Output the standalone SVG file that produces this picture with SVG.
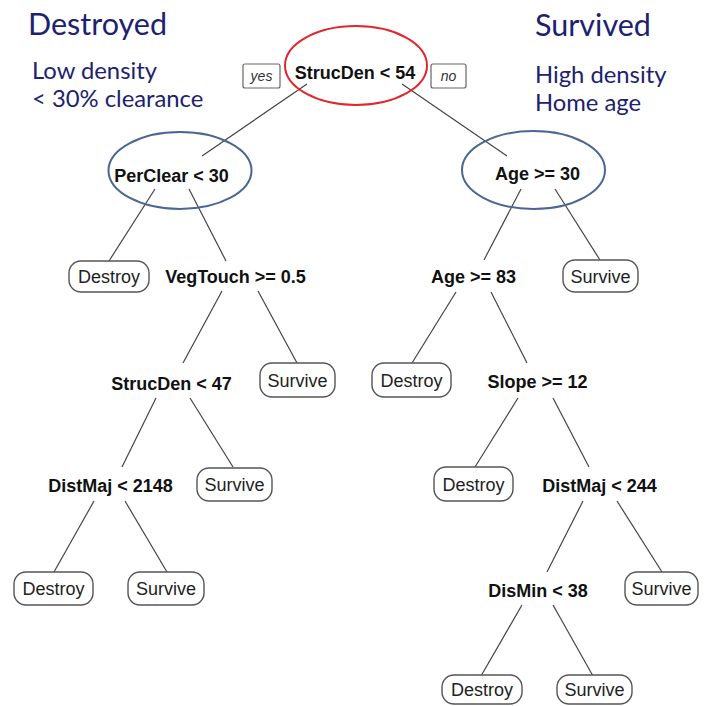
<svg xmlns="http://www.w3.org/2000/svg" width="709" height="706" viewBox="0 0 709 706">
<style>
.title{font-family:Lato,"Open Sans",sans-serif;fill:#1d2270}
.big{font-size:30.5px}
.sub{font-size:23.8px}
.split{font-family:"Liberation Sans",Arial,sans-serif;font-weight:bold;font-size:18px;fill:#111;text-anchor:middle}
.leaf rect{fill:#fff;stroke:#555;stroke-width:1.4}
.leaf text{font-family:"Liberation Sans",Arial,sans-serif;font-size:18px;fill:#222;text-anchor:middle}
.tag rect{fill:#fff;stroke:#666;stroke-width:1.2}
.tag text{font-family:"Liberation Sans",Arial,sans-serif;font-style:italic;font-size:14px;fill:#333;text-anchor:middle}
#connectors line{stroke:#444;stroke-width:1.2}
</style>
<rect width="709" height="706" fill="#fff"/>
<text class="title big" x="28" y="35">Destroyed</text>
<text class="title sub" x="32" y="79">Low density</text>
<text class="title sub" x="32" y="107">&lt; 30% clearance</text>
<text class="title big" x="535" y="36">Survived</text>
<text class="title sub" x="535" y="83">High density</text>
<text class="title sub" x="535" y="111">Home age</text>
<g id="connectors">
<line x1="307" y1="84" x2="202" y2="156"/>
<line x1="402" y1="84" x2="507" y2="156"/>
<line x1="155" y1="189" x2="109" y2="261"/>
<line x1="189" y1="189" x2="226" y2="261"/>
<line x1="521" y1="189" x2="484" y2="260"/>
<line x1="555" y1="189" x2="600" y2="260"/>
<line x1="222" y1="291" x2="183" y2="363"/>
<line x1="258" y1="291" x2="297" y2="363"/>
<line x1="456" y1="292" x2="412" y2="363"/>
<line x1="491" y1="292" x2="527" y2="363"/>
<line x1="156" y1="398" x2="122" y2="467"/>
<line x1="190" y1="398" x2="233" y2="467"/>
<line x1="518" y1="398" x2="475" y2="467"/>
<line x1="553" y1="398" x2="589" y2="467"/>
<line x1="94" y1="501" x2="54" y2="572"/>
<line x1="125" y1="501" x2="167" y2="572"/>
<line x1="583" y1="501" x2="547" y2="572"/>
<line x1="617" y1="501" x2="662" y2="572"/>
<line x1="522" y1="605" x2="481" y2="676"/>
<line x1="553" y1="605" x2="593" y2="676"/>
</g>
<g id="root">
<ellipse cx="356" cy="65.5" rx="71" ry="39.5" fill="none" stroke="#e3262b" stroke-width="2"/>
<text class="split" x="355" y="79">StrucDen &lt; 54</text>
</g>
<g id="tag-yes" class="tag"><rect x="243" y="64" width="37" height="24" rx="2"/><text x="261.5" y="81">yes</text></g>
<g id="tag-no" class="tag"><rect x="431" y="64" width="35" height="24" rx="2"/><text x="448.5" y="81">no</text></g>
<g id="perclear">
<ellipse cx="180" cy="170.5" rx="71.5" ry="38.5" fill="none" stroke="#4a6794" stroke-width="2"/>
<text class="split" x="171.5" y="182">PerClear &lt; 30</text>
</g>
<g id="age30">
<ellipse cx="533.5" cy="170" rx="71.5" ry="39" fill="none" stroke="#4a6794" stroke-width="2"/>
<text class="split" x="537.5" y="180">Age &gt;= 30</text>
</g>
<g id="vegtouch"><text class="split" x="235.5" y="283">VegTouch &gt;= 0.5</text></g>
<g id="age83"><text class="split" x="473.5" y="283">Age &gt;= 83</text></g>
<g id="strucden47"><text class="split" x="171.5" y="390">StrucDen &lt; 47</text></g>
<g id="slope"><text class="split" x="537.5" y="388">Slope &gt;= 12</text></g>
<g id="distmaj2148"><text class="split" x="110.5" y="492">DistMaj &lt; 2148</text></g>
<g id="distmaj244"><text class="split" x="599.5" y="492">DistMaj &lt; 244</text></g>
<g id="dismin"><text class="split" x="538" y="597">DisMin &lt; 38</text></g>
<g id="leaf1" class="leaf"><rect x="69" y="261" width="80" height="31" rx="12"/><text x="109" y="283">Destroy</text></g>
<g id="leaf2" class="leaf"><rect x="563" y="260" width="75" height="32" rx="12"/><text x="600.5" y="282.5">Survive</text></g>
<g id="leaf3" class="leaf"><rect x="260" y="363" width="75" height="34" rx="12"/><text x="297.5" y="386.5">Survive</text></g>
<g id="leaf4" class="leaf"><rect x="372" y="363" width="79" height="34" rx="12"/><text x="411.5" y="386.5">Destroy</text></g>
<g id="leaf5" class="leaf"><rect x="197" y="468" width="75" height="33" rx="12"/><text x="234.5" y="491">Survive</text></g>
<g id="leaf6" class="leaf"><rect x="434" y="467" width="79" height="34" rx="12"/><text x="473.5" y="490.5">Destroy</text></g>
<g id="leaf7" class="leaf"><rect x="14" y="572" width="79" height="33" rx="12"/><text x="53.5" y="595">Destroy</text></g>
<g id="leaf8" class="leaf"><rect x="128" y="572" width="76" height="33" rx="12"/><text x="166" y="595">Survive</text></g>
<g id="leaf9" class="leaf"><rect x="625" y="572" width="73" height="33" rx="12"/><text x="661.5" y="595">Survive</text></g>
<g id="leaf10" class="leaf"><rect x="442" y="675" width="80" height="29" rx="12"/><text x="482" y="696">Destroy</text></g>
<g id="leaf11" class="leaf"><rect x="557" y="675" width="75" height="29" rx="12"/><text x="594.5" y="696">Survive</text></g>
</svg>
